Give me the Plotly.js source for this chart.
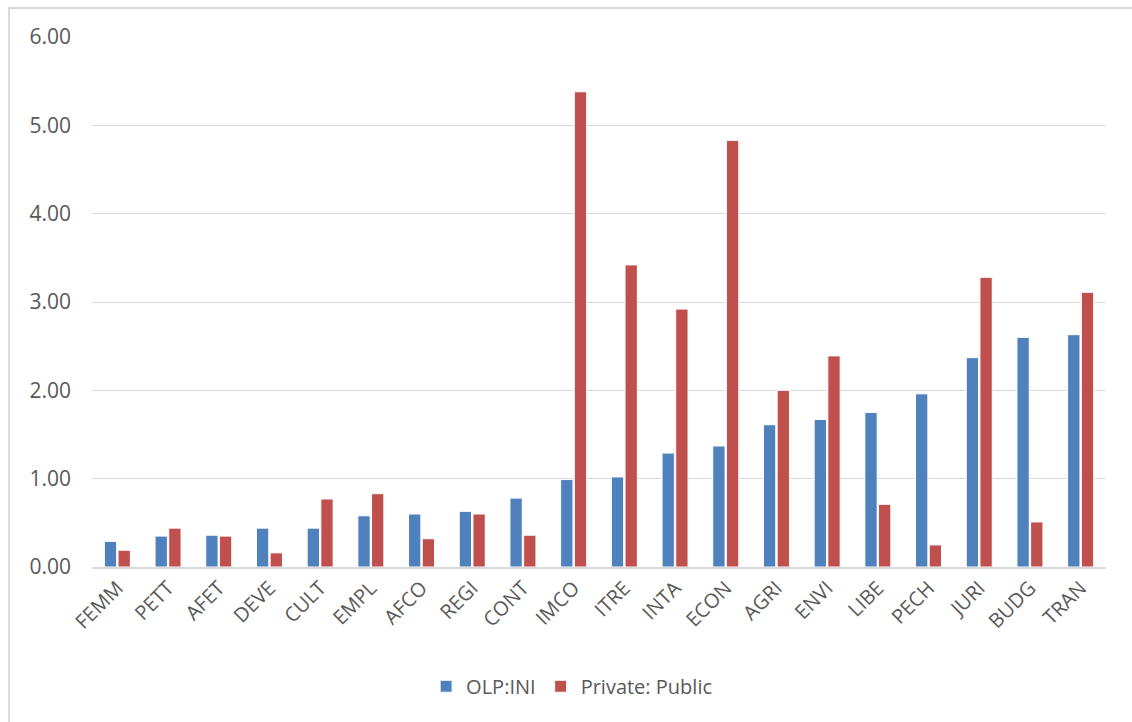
<!DOCTYPE html>
<html>
<head>
<meta charset="utf-8">
<script src="https://cdn.plot.ly/plotly-3.0.1.min.js"></script>
<style>
html,body{margin:0;padding:0;background:#fff;}
#wrap{position:relative;width:1132px;height:722px;overflow:hidden;}
#chart{position:absolute;left:0;top:0;width:1132px;height:722px;}
#frame{position:absolute;left:8px;top:7px;width:1140px;height:740px;border:2px solid #d9d9d9;pointer-events:none;}
</style>
</head>
<body>
<div id="wrap"><div id="chart"></div><div id="frame"></div></div>
<script>
const categories = ["FEMM","PETT","AFET","DEVE","CULT","EMPL","AFCO","REGI","CONT","IMCO","ITRE","INTA","ECON","AGRI","ENVI","LIBE","PECH","JURI","BUDG","TRAN"];
const olpIni = [0.29,0.35,0.36,0.44,0.44,0.58,0.60,0.63,0.78,0.99,1.02,1.29,1.37,1.61,1.67,1.75,1.96,2.37,2.60,2.63];
const privatePublic = [0.19,0.44,0.35,0.16,0.77,0.83,0.32,0.60,0.36,5.38,3.42,2.92,4.83,2.00,2.39,0.71,0.25,3.28,0.51,3.11];
const yTicks = [0,1,2,3,4,5,6];

const fam = "'Open Sans', sans-serif";
const font = {family:fam, color:"#595959", size:20};

const data = [
  {type:"bar", name:"OLP:INI", x:categories, y:olpIni,
   marker:{color:"#4F81BD", line:{color:"#ffffff", width:1}}},
  {type:"bar", name:"Private: Public", x:categories, y:privatePublic,
   marker:{color:"#C0504D", line:{color:"#ffffff", width:1}}}
];
const layout = {
  width:1132, height:722,
  margin:{l:92, r:26, t:37, b:155},
  paper_bgcolor:"#fff", plot_bgcolor:"#fff",
  font:font,
  barmode:"group", bargap:0.46, bargroupgap:0.1,
  showlegend:true,
  legend:{orientation:"h", x:0.473, xanchor:"center", y:-0.225, yanchor:"middle",
          font:{family:fam, color:"#595959", size:20}, itemwidth:30, traceorder:"normal"},
  xaxis:{type:"category", tickangle:-45, showgrid:false, showline:true, linecolor:"#d9d9d9", linewidth:1.5,
         ticks:"", tickfont:{family:fam, color:"#595959", size:20}, fixedrange:true},
  yaxis:{range:[0,6], tickvals:yTicks, ticktext:yTicks.map(v=>v.toFixed(2)),
         showgrid:true, gridcolor:"#d9d9d9", gridwidth:1, zeroline:false, showline:false,
         ticks:"", ticklabelstandoff:20,
         tickfont:{family:fam, color:"#595959", size:21}, fixedrange:true}
};
Plotly.newPlot("chart", data, layout, {displayModeBar:false, staticPlot:true});
</script>
</body>
</html>
